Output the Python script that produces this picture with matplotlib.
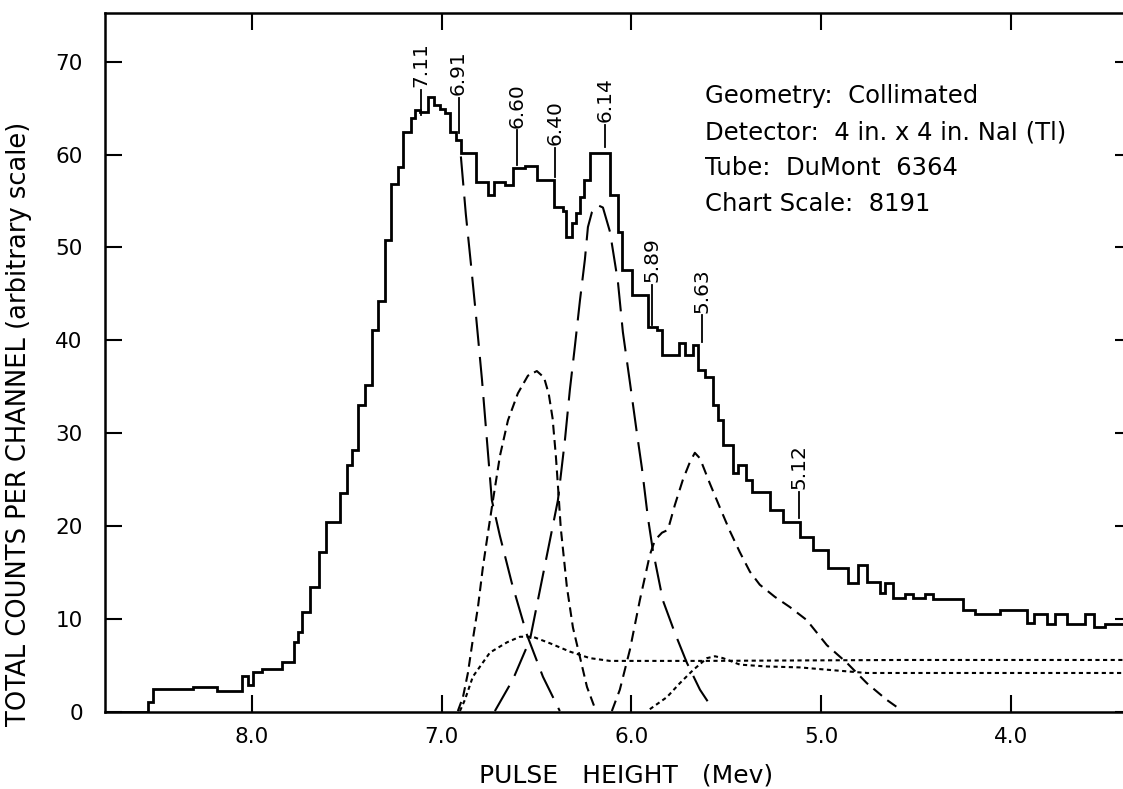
import matplotlib
matplotlib.use("Agg")
import matplotlib.pyplot as plt

plt.rcParams['font.family'] = ['DejaVu Sans']
plt.rcParams['lines.scale_dashes'] = False

# channel edges (Mev, high -> low) and total counts per channel
edges = [8.772, 8.546, 8.520, 8.309, 8.183, 8.051, 8.019, 7.993, 7.946, 7.840,
         7.777, 7.756, 7.735, 7.693, 7.646, 7.609, 7.535, 7.498, 7.472, 7.440,
         7.403, 7.367, 7.335, 7.298, 7.266, 7.230, 7.203, 7.161, 7.140, 7.114,
         7.072, 7.040, 7.008, 6.982, 6.956, 6.924, 6.898, 6.819, 6.756, 6.724,
         6.666, 6.624, 6.561, 6.498, 6.408, 6.361, 6.345, 6.313, 6.292, 6.271,
         6.250, 6.219, 6.113, 6.071, 6.050, 5.997, 5.913, 5.866, 5.839, 5.750,
         5.718, 5.676, 5.650, 5.613, 5.571, 5.544, 5.518, 5.466, 5.439, 5.397,
         5.365, 5.271, 5.202, 5.113, 5.044, 4.965, 4.860, 4.807, 4.760, 4.691,
         4.665, 4.623, 4.560, 4.518, 4.454, 4.412, 4.254, 4.191, 4.059, 3.917,
         3.880, 3.812, 3.770, 3.707, 3.612, 3.565, 3.507, 3.36]
counts = [0.0, 1.1, 2.5, 2.7, 2.3, 3.9, 2.9, 4.3, 4.6, 5.4,
          7.5, 8.6, 10.8, 13.5, 17.2, 20.5, 23.6, 26.6, 28.2, 33.0,
          35.2, 41.1, 44.2, 50.8, 56.8, 58.7, 62.4, 63.9, 64.8, 64.6,
          66.2, 65.3, 64.9, 64.5, 62.4, 61.6, 60.2, 57.1, 55.7, 57.1,
          56.7, 58.6, 58.8, 57.3, 54.4, 53.9, 51.1, 52.6, 53.7, 55.4,
          57.3, 60.2, 55.7, 51.7, 47.6, 44.9, 41.4, 41.1, 38.4, 39.7,
          38.4, 39.5, 36.8, 36.1, 33.0, 31.4, 28.7, 25.7, 26.6, 25.0,
          23.7, 21.7, 20.5, 18.8, 17.4, 15.5, 13.9, 15.8, 14.0, 12.8,
          13.9, 12.3, 12.7, 12.3, 12.7, 12.2, 11.0, 10.5, 11.0, 9.6,
          10.5, 9.5, 10.5, 9.5, 10.5, 9.1, 9.5]

# resolved components
peak_711_e = [6.898, 6.872, 6.845, 6.819, 6.787, 6.761, 6.735, 6.693, 6.630, 6.550, 6.466, 6.377]
peak_711_c = [59.8, 53.6, 48.2, 42.8, 35.8, 29.3, 22.8, 19.0, 13.9, 8.3, 3.8, 0.1]

peak_660_e = [6.914, 6.887, 6.861, 6.835, 6.808, 6.782, 6.756, 6.729, 6.692, 6.650, 6.598, 6.545,
              6.498, 6.460, 6.435, 6.415, 6.398, 6.385, 6.372, 6.340, 6.308, 6.271, 6.234, 6.192]
peak_660_c = [0.1, 1.6, 4.2, 7.8, 11.3, 15.6, 19.2, 22.8, 27.6, 31.4, 34.3, 36.2,
              36.7, 36.0, 34.2, 31.6, 27.6, 23.8, 19.8, 13.5, 9.1, 5.9, 2.7, 0.4]

peak_614_e = [6.719, 6.624, 6.534, 6.482, 6.429, 6.387, 6.350, 6.324, 6.298, 6.271, 6.245, 6.229,
              6.208, 6.182, 6.150, 6.113, 6.071, 6.045, 6.008, 5.971, 5.945, 5.913, 5.887, 5.834,
              5.771, 5.708, 5.639, 5.571]
peak_614_c = [0.1, 3.5, 7.8, 13.1, 18.5, 22.8, 29.3, 34.7, 39.3, 44.3, 48.7, 52.2,
              53.8, 54.6, 54.3, 51.7, 46.3, 40.9, 35.5, 30.0, 26.3, 20.9, 17.4, 12.0,
              8.5, 5.3, 2.4, 0.3]

peak_563_e = [6.103, 6.061, 6.008, 5.955, 5.903, 5.876, 5.839, 5.808, 5.771, 5.729, 5.692, 5.666,
              5.639, 5.587, 5.534, 5.482, 5.429, 5.376, 5.324, 5.245, 5.166, 5.077, 4.971, 4.866,
              4.760, 4.655, 4.586]
peak_563_c = [0.1, 2.4, 6.7, 12.1, 16.9, 18.5, 19.3, 19.6, 22.3, 25.0, 26.9, 27.9,
              27.3, 24.6, 22.0, 19.5, 17.2, 15.1, 13.7, 12.4, 11.3, 9.9, 7.2, 5.3,
              3.1, 1.3, 0.3]

tail_upper_e = [6.903, 6.877, 6.835, 6.745, 6.655, 6.587, 6.519, 6.429, 6.324, 6.219, 6.113,
                5.639, 4.586, 3.36]
tail_upper_c = [0.1, 1.3, 3.8, 6.4, 7.5, 8.1, 8.1, 7.4, 6.5, 5.8, 5.5,
                5.5, 5.6, 5.6]

tail_lower_e = [5.903, 5.813, 5.745, 5.676, 5.602, 5.560, 5.518, 5.429, 5.287, 5.113, 4.940,
                4.760, 4.586, 3.36]
tail_lower_c = [0.3, 1.6, 3.1, 4.5, 5.8, 6.0, 5.8, 5.1, 4.9, 4.8, 4.5,
                4.2, 4.2, 4.2]

# identified lines: label, marker bottom and top (counts)
line_labels = ['7.11', '6.91', '6.60', '6.40', '6.14', '5.89', '5.63', '5.12']
line_energy = [7.11, 6.91, 6.60, 6.40, 6.14, 5.89, 5.63, 5.12]
mark_lo = [64.3, 62.3, 58.9, 57.6, 60.8, 41.7, 39.8, 20.9]
mark_hi = [67.0, 66.1, 62.6, 60.7, 63.2, 46.0, 42.7, 23.7]

info_lines = ['Geometry:  Collimated',
              'Detector:  4 in. x 4 in. NaI (Tl)',
              'Tube:  DuMont  6364',
              'Chart Scale:  8191']

fig = plt.figure(figsize=(11.23, 7.89), dpi=100)
ax = fig.add_axes([105 / 1123, 77 / 789, 1027 / 1123, 699 / 789])

ax.stairs(counts, edges, baseline=None, color='black', lw=2.0)

long_dash = (0, (21, 8))
ax.plot(peak_711_e, peak_711_c, color='black', lw=1.5, ls=long_dash)
ax.plot(peak_614_e, peak_614_c, color='black', lw=1.5, ls=long_dash)
ax.plot(peak_660_e, peak_660_c, color='black', lw=1.5, ls=(0, (7, 4)))
ax.plot(peak_563_e, peak_563_c, color='black', lw=1.5, ls=(0, (8, 5)))
ax.plot(tail_upper_e, tail_upper_c, color='black', lw=1.5, ls=(0, (3, 2.5)))
ax.plot(tail_lower_e, tail_lower_c, color='black', lw=1.5, ls=(0, (3, 2.5)))

for lab, e, lo, hi in zip(line_labels, line_energy, mark_lo, mark_hi):
    ax.plot([e, e], [lo, hi], color='black', lw=1.3)
    ax.text(e, hi + 0.3, lab, rotation=90, ha='center', va='bottom', fontsize=14.5)

for i, txt in enumerate(info_lines):
    ax.text(5.613, 65.5 - 3.85 * i, txt, fontsize=17.5, va='baseline')

ax.set_xlim(8.772, 3.364)
ax.set_ylim(0, 75.24)
ax.set_xticks([8, 7, 6, 5, 4])
ax.set_xticklabels(['8.0', '7.0', '6.0', '5.0', '4.0'])
ax.set_yticks(range(0, 80, 10))
ax.tick_params(direction='in', length=12, width=1.5, top=True, right=True, labelsize=15.5)
ax.tick_params(axis='x', pad=11)
ax.tick_params(axis='y', pad=16)
for sp in ax.spines.values():
    sp.set_linewidth(1.8)

ax.set_xlabel('PULSE   HEIGHT   (Mev)', fontsize=18)
ax.xaxis.set_label_coords(0.507, -0.074)
ax.set_ylabel('TOTAL COUNTS PER CHANNEL (arbitrary scale)', fontsize=18.5)
ax.yaxis.set_label_coords(-0.071, 0.412)

fig.savefig('out.png', dpi=100)
